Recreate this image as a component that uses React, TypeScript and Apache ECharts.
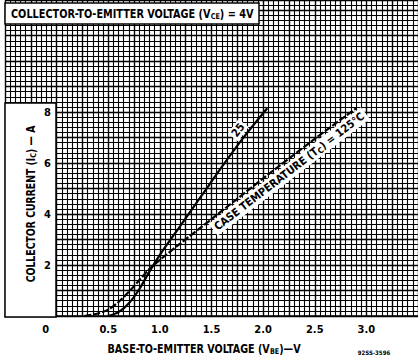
import React, { useEffect, useRef } from 'react';
import * as echarts from 'echarts';

// Tick labels
const xTickValues = [0, 0.5, 1.0, 1.5, 2.0, 2.5, 3.0];
const xTickLabels = ['0', '0.5', '1.0', '1.5', '2.0', '2.5', '3.0'];
const yTickValues = [2, 4, 6, 8];
const yTickLabels = ['2', '4', '6', '8'];

// Curve: case temperature 25 °C (solid)
const vbe25 = [0.50, 0.60, 0.70, 0.80, 0.90, 1.00, 1.20, 1.40, 1.60, 1.80, 2.04];
const ic25 = [0.00, 0.15, 0.50, 1.05, 1.75, 2.40, 3.55, 4.70, 5.85, 6.95, 8.15];

// Curve: case temperature 125 °C (dashed)
const vbe125 = [0.27, 0.40, 0.50, 0.60, 0.70, 0.80, 0.90, 1.00, 1.20, 1.50, 2.00, 2.50, 2.90];
const ic125 = [0.00, 0.10, 0.25, 0.55, 0.95, 1.40, 1.85, 2.20, 2.85, 3.80, 5.40, 6.95, 8.15];

const FONT = '"DejaVu Sans Condensed", "Liberation Sans Narrow", "DejaVu Sans", sans-serif';

const sub = { fontSize: 8, fontWeight: 'bold' as const, fontFamily: FONT, fill: '#000', padding: [5, 0, 0, 0] };

export default function App() {
  const ref = useRef<HTMLDivElement>(null);
  useEffect(() => {
    document.body.style.margin = '0';
    const chart = echarts.init(ref.current!, undefined, { renderer: 'svg' });
    const gridLine = { color: '#000', width: 1.1 };
    const majorLine = { color: '#000', width: 1.4 };
    const option: any = {
      animation: false,
      backgroundColor: '#fff',
      grid: { left: 5, right: 0, top: 0, bottom: 42, containLabel: false },
      xAxis: {
        type: 'value', min: -0.5, max: 3.5, interval: 0.25,
        axisLine: { show: true, lineStyle: { color: '#000', width: 1.6 } },
        axisTick: { show: false },
        minorTick: { show: false, splitNumber: 5 },
        splitLine: { show: true, lineStyle: majorLine },
        minorSplitLine: { show: true, lineStyle: gridLine },
        axisLabel: {
          margin: 8, color: '#000', fontFamily: FONT, fontWeight: 'bold', fontSize: 11,
          showMinLabel: false, showMaxLabel: false,
          formatter: (v: number) => {
            const i = xTickValues.findIndex((t) => Math.abs(t - v) < 1e-6);
            if (i < 0) return '';
            return i === 0 ? '{z|' + xTickLabels[i] + '}' : xTickLabels[i];
          },
          rich: { z: { padding: [0, 22, 0, 0], fontFamily: FONT, fontWeight: 'bold', fontSize: 11, color: '#000' } },
        },
      },
      yAxis: [
        {
          type: 'value', min: 0, max: 12.4, interval: 1,
          axisLine: { show: false }, axisTick: { show: false }, axisLabel: { show: false },
          minorTick: { show: false, splitNumber: 5 },
          splitLine: { show: true, lineStyle: majorLine },
          minorSplitLine: { show: true, lineStyle: gridLine },
        },
        {
          type: 'value', min: 0, max: 12.4, interval: 1, position: 'left', offset: -50, z: 30,
          axisLine: { show: false }, axisTick: { show: false }, splitLine: { show: false },
          axisLabel: {
            margin: 4, color: '#000', fontFamily: FONT, fontWeight: 'bold', fontSize: 11,
            formatter: (v: number) => {
              const i = yTickValues.findIndex((t) => Math.abs(t - v) < 1e-6);
              return i < 0 ? '' : yTickLabels[i];
            },
          },
        },
      ],
      series: [
        {
          type: 'line', name: '25', data: vbe25.map((x, i) => [x, ic25[i]]), smooth: 0.3,
          symbol: 'none', z: 5, lineStyle: { color: '#000', width: 2.2 },
        },
        {
          type: 'line', name: '125', data: vbe125.map((x, i) => [x, ic125[i]]), smooth: 0.3,
          symbol: 'none', z: 5, lineStyle: { color: '#000', width: 2.2, type: [7, 2] },
        },
      ],
    };
    chart.setOption(option);

    const px = (x: number, y: number) => chart.convertToPixel({ xAxisIndex: 0, yAxisIndex: 0 }, [x, y]) as number[];
    const angle = (a: number[], b: number[]) => {
      const p = px(a[0], a[1]);
      const q = px(b[0], b[1]);
      return Math.atan2(p[1] - q[1], q[0] - p[0]);
    };
    const r25 = angle([1.4, 4.7], [2.04, 8.15]);
    const a25 = px(1.82, 7.1);
    const l25 = [a25[0] - Math.sin(r25) * 8, a25[1] - Math.cos(r25) * 8];
    const r125 = angle([1.5, 3.8], [2.9, 8.15]);
    const a125 = px(2.2, 5.95);
    const l125 = [a125[0] + Math.sin(r125) * 9, a125[1] + Math.cos(r125) * 9];

    const labelFont = { fontFamily: FONT, fontWeight: 'bold' as const, fill: '#000' };
    chart.setOption({
      graphic: [
        { type: 'rect', z: 10, shape: { x: 5, y: 3, width: 254, height: 21 }, style: { fill: '#fff', stroke: '#000', lineWidth: 1.5 } },
        {
          type: 'text', z: 51, x: 11, y: 14, scaleX: 0.9,
          style: {
            ...labelFont, fontSize: 12, text: 'COLLECTOR-TO-EMITTER VOLTAGE (V{s|CE}) = 4V', verticalAlign: 'middle', align: 'left',
            rich: { s: sub },
          },
        },
        { type: 'rect', z: 10, shape: { x: 5, y: 103, width: 51, height: 214 }, style: { fill: '#fff', stroke: '#000', lineWidth: 1.5 } },
        {
          type: 'text', z: 51, x: 31, y: 204, rotation: Math.PI / 2, scaleX: 0.9,
          style: {
            ...labelFont, fontSize: 11.5, text: 'COLLECTOR CURRENT (I{s|C}) \u2014 A', align: 'center', verticalAlign: 'middle',
            rich: { s: sub },
          },
        },
        {
          type: 'text', z: 51, x: 204, y: 349, scaleX: 0.89,
          style: {
            ...labelFont, fontSize: 12, text: 'BASE-TO-EMITTER VOLTAGE (V{s|BE})\u2014V', align: 'center', verticalAlign: 'middle',
            rich: { s: sub },
          },
        },
        {
          type: 'text', z: 51, x: 374, y: 352,
          style: { ...labelFont, fontSize: 6, text: '92SS-3596', align: 'center', verticalAlign: 'middle' },
        },
        {
          type: 'text', z: 51, x: l25[0], y: l25[1], rotation: r25,
          style: { ...labelFont, fontSize: 11, text: '25', align: 'center', verticalAlign: 'middle', backgroundColor: '#fff', padding: [1, 2] },
        },
        {
          type: 'text', z: 51, x: l125[0], y: l125[1], rotation: r125,
          style: {
            ...labelFont, fontSize: 11, text: 'CASE TEMPERATURE (T{s|C}) = 125\u00b0C', align: 'center', verticalAlign: 'middle',
            backgroundColor: '#fff', padding: [1, 3], rich: { s: sub },
          },
        },
      ],
    });
    return () => chart.dispose();
  }, []);
  return <div ref={ref} style={{ width: 418, height: 358 }} />;
}
